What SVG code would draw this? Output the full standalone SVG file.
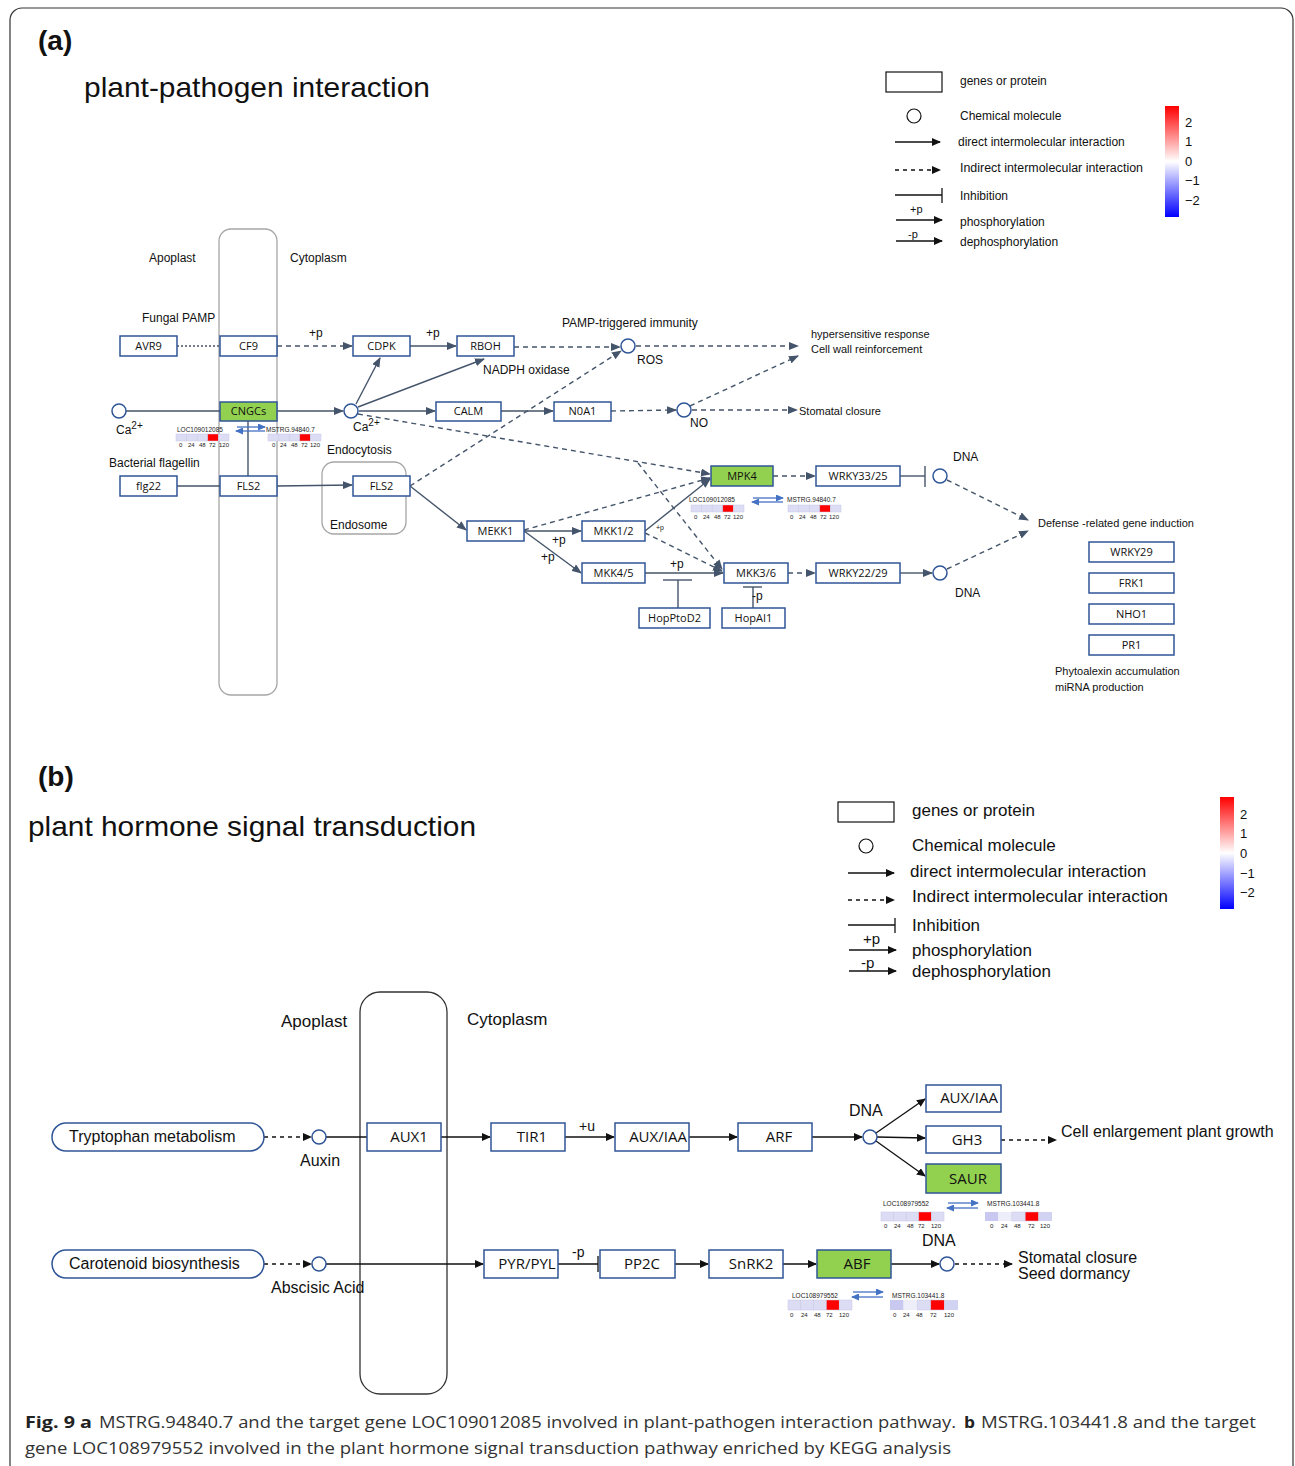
<svg xmlns="http://www.w3.org/2000/svg" width="1295" height="1466" viewBox="0 0 1295 1466">
<defs>
<style>
.t{font-family:"Liberation Sans",Arial,sans-serif;fill:#111}
.n{fill:#fff;stroke:#2f5597;stroke-width:1.5}
.g{fill:#92d050;stroke:#2f5597;stroke-width:1.5}
.nl{font-family:"Open Sans","Liberation Sans",sans-serif;font-size:11px;fill:#111;text-anchor:middle}
.bl{font-family:"Open Sans","Liberation Sans",sans-serif;font-size:15px;fill:#111;text-anchor:middle}
.c{fill:#fff;stroke:#2f5597;stroke-width:1.5}
.s{stroke:#44546a;stroke-width:1.4;fill:none}
.d{stroke:#44546a;stroke-width:1.4;fill:none;stroke-dasharray:5,4}
.sa{stroke:#44546a;stroke-width:1.4;fill:none;marker-end:url(#ma)}
.da{stroke:#44546a;stroke-width:1.4;fill:none;stroke-dasharray:5,4;marker-end:url(#ma)}
.kb{stroke:#111;stroke-width:1.3;fill:none}
.kba{stroke:#111;stroke-width:1.3;fill:none;marker-end:url(#mk)}
.kbd{stroke:#111;stroke-width:1.3;fill:none;stroke-dasharray:4,4;marker-end:url(#mk)}
.ba{stroke:#4472c4;stroke-width:1.3;fill:none;marker-end:url(#mb)}
.hc{fill:#dcdcf5;stroke:#c8c8e6;stroke-width:0.5}
.hr{fill:#ff0000;stroke:#c8c8e6;stroke-width:0.5}
.hs{font-family:"Liberation Sans",Arial,sans-serif;font-size:6.5px;fill:#222}
.hn{font-family:"Liberation Sans",Arial,sans-serif;font-size:6px;fill:#222}
.cap{font-family:"Open Sans","Liberation Sans",sans-serif;font-size:16.5px;fill:#333}
.capb{font-family:"Open Sans","Liberation Sans",sans-serif;font-size:16.5px;fill:#222;font-weight:bold}
</style>
<marker id="ma" markerWidth="10" markerHeight="8" refX="9" refY="4" orient="auto" markerUnits="userSpaceOnUse"><path d="M0,0 L10,4 L0,8 z" fill="#44546a"/></marker>
<marker id="mk" markerWidth="9" markerHeight="8" refX="8" refY="4" orient="auto" markerUnits="userSpaceOnUse"><path d="M0,0 L9,4 L0,8 z" fill="#111"/></marker>
<marker id="mb" markerWidth="8" markerHeight="7" refX="7" refY="3.5" orient="auto" markerUnits="userSpaceOnUse"><path d="M0,0 L8,3.5 L0,7 z" fill="#4472c4"/></marker>
<linearGradient id="cb" x1="0" y1="0" x2="0" y2="1">
<stop offset="0" stop-color="#ff0000"/><stop offset="0.5" stop-color="#ffffff"/><stop offset="1" stop-color="#0000ff"/>
</linearGradient>
</defs>
<rect x="0" y="0" width="1295" height="1466" fill="#fff"/>
<rect x="10" y="8" width="1283" height="1470" rx="12" fill="none" stroke="#333" stroke-width="1.2"/>

<!-- Panel a headings -->
<text class="t" x="38" y="50" font-size="28" font-weight="bold">(a)</text>
<text class="t" x="84" y="97" font-size="28" textLength="346" lengthAdjust="spacingAndGlyphs">plant-pathogen interaction</text>

<!-- Legend a -->
<g id="legend-a">
<rect x="886" y="72" width="56" height="20" fill="#fff" stroke="#111" stroke-width="1.2"/>
<text class="t" x="960" y="85" font-size="12">genes or protein</text>
<circle cx="914" cy="116" r="7" fill="#fff" stroke="#111" stroke-width="1.2"/>
<text class="t" x="960" y="120" font-size="12">Chemical molecule</text>
<line class="kba" x1="895" y1="142" x2="940" y2="142"/>
<text class="t" x="958" y="146" font-size="12">direct intermolecular interaction</text>
<line class="kbd" x1="895" y1="170" x2="940" y2="170"/>
<text class="t" x="960" y="172" font-size="12" textLength="183" lengthAdjust="spacingAndGlyphs">Indirect intermolecular interaction</text>
<line class="kb" x1="895" y1="195" x2="942" y2="195"/><line class="kb" x1="942" y1="188" x2="942" y2="203"/>
<text class="t" x="960" y="200" font-size="12">Inhibition</text>
<text class="t" x="910" y="213" font-size="11">+p</text>
<line class="kba" x1="896" y1="220" x2="942" y2="220"/>
<text class="t" x="960" y="226" font-size="12">phosphorylation</text>
<text class="t" x="908" y="238" font-size="11">-p</text>
<line class="kba" x1="896" y1="241" x2="942" y2="241"/>
<text class="t" x="960" y="246" font-size="12">dephosphorylation</text>
<rect x="1165" y="106" width="14" height="111" fill="url(#cb)"/>
<text class="t" x="1185" y="127" font-size="13">2</text>
<text class="t" x="1185" y="146" font-size="13">1</text>
<text class="t" x="1185" y="166" font-size="13">0</text>
<text class="t" x="1185" y="185" font-size="13">−1</text>
<text class="t" x="1185" y="205" font-size="13">−2</text>
</g>

<!-- compartments a -->
<rect x="219" y="229" width="58" height="466" rx="12" fill="none" stroke="#a6a6a6" stroke-width="1.3"/>
<text class="t" x="149" y="262" font-size="12">Apoplast</text>
<text class="t" x="290" y="262" font-size="12">Cytoplasm</text>
<text class="t" x="142" y="322" font-size="12">Fungal PAMP</text>
<text class="t" x="109" y="467" font-size="12">Bacterial flagellin</text>
<text class="t" x="327" y="454" font-size="12">Endocytosis</text>
<rect x="322" y="462" width="84" height="72" rx="12" fill="none" stroke="#a6a6a6" stroke-width="1.3"/>
<text class="t" x="330" y="529" font-size="12">Endosome</text>
<text class="t" x="562" y="327" font-size="12">PAMP-triggered immunity</text>
<text class="t" x="483" y="374" font-size="12">NADPH oxidase</text>
<text class="t" x="811" y="338" font-size="11">hypersensitive response</text>
<text class="t" x="811" y="353" font-size="11">Cell wall  reinforcement</text>
<text class="t" x="799" y="415" font-size="11">Stomatal closure</text>
<text class="t" x="1038" y="527" font-size="11">Defense -related gene induction</text>
<text class="t" x="1055" y="675" font-size="11">Phytoalexin accumulation</text>
<text class="t" x="1055" y="691" font-size="11">miRNA production</text>

<!-- connectors a -->
<g id="connectors-a">
<line class="s" x1="177" y1="346" x2="220" y2="346" stroke-dasharray="2,2"/>
<line class="da" x1="277" y1="346" x2="352" y2="346"/>
<text class="t" x="309" y="337" font-size="12">+p</text>
<line class="sa" x1="410" y1="346" x2="456" y2="346"/>
<text class="t" x="426" y="337" font-size="12">+p</text>
<line class="da" x1="514" y1="347" x2="620" y2="347"/>
<line class="da" x1="636" y1="346" x2="798" y2="346"/>
<line class="s" x1="126" y1="411" x2="220" y2="411"/>
<line class="sa" x1="277" y1="411" x2="343" y2="411"/>
<line class="sa" x1="356" y1="404" x2="380" y2="358"/>
<line class="sa" x1="358" y1="407" x2="484" y2="359"/>
<line class="sa" x1="359" y1="411" x2="435" y2="411"/>
<line class="da" x1="358" y1="414" x2="710" y2="474"/>
<line class="da" x1="638" y1="463" x2="722" y2="569"/>
<line class="sa" x1="501" y1="411" x2="553" y2="411"/>
<line class="da" x1="611" y1="411" x2="676" y2="410"/>
<line class="da" x1="692" y1="410" x2="797" y2="410"/>
<line class="da" x1="690" y1="406" x2="798" y2="356"/>
<line class="s" x1="248" y1="420" x2="248" y2="476"/>
<line class="s" x1="177" y1="486" x2="220" y2="486"/>
<line class="sa" x1="277" y1="486" x2="352" y2="485"/>
<line class="da" x1="410" y1="486" x2="621" y2="351"/>
<line class="sa" x1="410" y1="486" x2="466" y2="530"/>
<line class="sa" x1="524" y1="531" x2="581" y2="531"/>
<text class="t" x="552" y="544" font-size="12">+p</text>
<line class="sa" x1="524" y1="531" x2="581" y2="573"/>
<text class="t" x="541" y="561" font-size="12">+p</text>
<line class="da" x1="524" y1="530" x2="710" y2="478"/>
<line class="sa" x1="645" y1="531" x2="710" y2="479"/>
<text class="t" x="656" y="530" font-size="7">+p</text>
<line class="da" x1="645" y1="533" x2="722" y2="571"/>
<line class="sa" x1="645" y1="573" x2="723" y2="573"/>
<text class="t" x="670" y="568" font-size="12">+p</text>
<line class="s" x1="678" y1="608" x2="678" y2="580" stroke="#666"/>
<line class="s" x1="663" y1="580" x2="692" y2="580" stroke="#666"/>
<line class="s" x1="753" y1="608" x2="753" y2="587" stroke="#333"/>
<line class="s" x1="743" y1="587" x2="762" y2="587" stroke="#333"/>
<text class="t" x="752" y="600" font-size="12">-p</text>
<line class="da" x1="773" y1="476" x2="815" y2="476"/>
<line class="s" x1="900" y1="476" x2="925" y2="476"/>
<line class="s" x1="925" y1="466" x2="925" y2="487"/>
<line class="da" x1="947" y1="480" x2="1028" y2="520"/>
<line class="da" x1="788" y1="573" x2="815" y2="573"/>
<line class="sa" x1="900" y1="573" x2="932" y2="573"/>
<line class="da" x1="947" y1="569" x2="1028" y2="531"/>
</g>

<!-- nodes a -->
<g id="AVR9"><rect class="n" x="120" y="336" width="57" height="20"/><text class="nl" x="148.5" y="350">AVR9</text></g>
<g id="CF9"><rect class="n" x="220" y="336" width="57" height="20"/><text class="nl" x="248.5" y="350">CF9</text></g>
<g id="CDPK"><rect class="n" x="353" y="336" width="57" height="20"/><text class="nl" x="381.5" y="350">CDPK</text></g>
<g id="RBOH"><rect class="n" x="457" y="336" width="57" height="20"/><text class="nl" x="485.5" y="350">RBOH</text></g>
<g id="ROS"><circle class="c" cx="628" cy="346" r="7"/><text class="t" x="637" y="364" font-size="12">ROS</text></g>
<g id="Ca1"><circle class="c" cx="119" cy="411" r="7"/><text class="t" x="116" y="434" font-size="12">Ca<tspan font-size="10" dy="-5">2+</tspan></text></g>
<g id="CNGCs"><rect class="g" x="220" y="402" width="57" height="19"/><text class="nl" x="248.5" y="415">CNGCs</text></g>
<g id="Ca2"><circle class="c" cx="351" cy="411" r="7"/><text class="t" x="353" y="431" font-size="12">Ca<tspan font-size="10" dy="-5">2+</tspan></text></g>
<g id="CALM"><rect class="n" x="436" y="402" width="65" height="19"/><text class="nl" x="468.5" y="415">CALM</text></g>
<g id="N0A1"><rect class="n" x="554" y="402" width="57" height="19"/><text class="nl" x="582.5" y="415">N0A1</text></g>
<g id="NO"><circle class="c" cx="684" cy="410" r="7"/><text class="t" x="690" y="427" font-size="12">NO</text></g>
<g id="flg22"><rect class="n" x="120" y="476" width="57" height="20"/><text class="nl" x="148.5" y="490">flg22</text></g>
<g id="FLS2"><rect class="n" x="220" y="476" width="57" height="20"/><text class="nl" x="248.5" y="490">FLS2</text></g>
<g id="FLS2-endo"><rect class="n" x="353" y="476" width="57" height="20"/><text class="nl" x="381.5" y="490">FLS2</text></g>
<g id="MEKK1"><rect class="n" x="467" y="521" width="57" height="20"/><text class="nl" x="495.5" y="535">MEKK1</text></g>
<g id="MKK12"><rect class="n" x="582" y="521" width="63" height="20"/><text class="nl" x="613.5" y="535">MKK1/2</text></g>
<g id="MKK45"><rect class="n" x="582" y="563" width="63" height="20"/><text class="nl" x="613.5" y="577">MKK4/5</text></g>
<g id="MPK4"><rect class="g" x="711" y="466" width="62" height="20"/><text class="nl" x="742" y="480">MPK4</text></g>
<g id="MKK36"><rect class="n" x="724" y="563" width="64" height="20"/><text class="nl" x="756" y="577">MKK3/6</text></g>
<g id="HopPtoD2"><rect class="n" x="639" y="608" width="71" height="20"/><text class="nl" x="674.5" y="622">HopPtoD2</text></g>
<g id="HopAI1"><rect class="n" x="722" y="608" width="63" height="20"/><text class="nl" x="753.5" y="622">HopAI1</text></g>
<g id="WRKY3325"><rect class="n" x="816" y="466" width="84" height="20"/><text class="nl" x="858" y="480">WRKY33/25</text></g>
<g id="WRKY2229"><rect class="n" x="816" y="563" width="84" height="20"/><text class="nl" x="858" y="577">WRKY22/29</text></g>
<g id="DNA1"><circle class="c" cx="940" cy="476" r="7"/><text class="t" x="953" y="461" font-size="12">DNA</text></g>
<g id="DNA2"><circle class="c" cx="940" cy="573" r="7"/><text class="t" x="955" y="597" font-size="12">DNA</text></g>
<g id="WRKY29"><rect class="n" x="1089" y="542" width="85" height="20"/><text class="nl" x="1131.5" y="556">WRKY29</text></g>
<g id="FRK1"><rect class="n" x="1089" y="573" width="85" height="20"/><text class="nl" x="1131.5" y="587">FRK1</text></g>
<g id="NHO1"><rect class="n" x="1089" y="604" width="85" height="20"/><text class="nl" x="1131.5" y="618">NHO1</text></g>
<g id="PR1"><rect class="n" x="1089" y="635" width="85" height="20"/><text class="nl" x="1131.5" y="649">PR1</text></g>

<!-- heatmap a1 -->
<g id="heat-a1">
<text class="hs" x="177" y="432">LOC109012085</text>
<rect class="hc" x="176" y="434" width="10.6" height="7"/><rect class="hc" x="186.6" y="434" width="10.6" height="7"/><rect class="hc" x="197.2" y="434" width="10.6" height="7"/><rect class="hr" x="207.8" y="434" width="10.6" height="7"/><rect class="hc" x="218.4" y="434" width="10.6" height="7"/>
<text class="hn" x="179" y="447">0</text><text class="hn" x="188" y="447">24</text><text class="hn" x="199" y="447">48</text><text class="hn" x="209" y="447">72</text><text class="hn" x="219" y="447">120</text>
<line class="ba" x1="237" y1="427" x2="265" y2="427"/><line class="ba" x1="265" y1="431" x2="236" y2="431"/>
<text class="hs" x="266" y="432">MSTRG.94840.7</text>
<rect class="hc" x="268" y="434" width="10.6" height="7"/><rect class="hc" x="278.6" y="434" width="10.6" height="7"/><rect class="hc" x="289.2" y="434" width="10.6" height="7"/><rect class="hr" x="299.8" y="434" width="10.6" height="7"/><rect class="hc" x="310.4" y="434" width="10.6" height="7"/>
<text class="hn" x="272" y="447">0</text><text class="hn" x="280" y="447">24</text><text class="hn" x="291" y="447">48</text><text class="hn" x="301" y="447">72</text><text class="hn" x="310" y="447">120</text>
</g>
<!-- heatmap a2 -->
<g id="heat-a2">
<text class="hs" x="689" y="502">LOC109012085</text>
<rect class="hc" x="691" y="505" width="10.6" height="7"/><rect class="hc" x="701.6" y="505" width="10.6" height="7"/><rect class="hc" x="712.2" y="505" width="10.6" height="7"/><rect class="hr" x="722.8" y="505" width="10.6" height="7"/><rect class="hc" x="733.4" y="505" width="10.6" height="7"/>
<text class="hn" x="694" y="519">0</text><text class="hn" x="703" y="519">24</text><text class="hn" x="714" y="519">48</text><text class="hn" x="724" y="519">72</text><text class="hn" x="733" y="519">120</text>
<line class="ba" x1="753" y1="498" x2="783" y2="498"/><line class="ba" x1="783" y1="502" x2="752" y2="502"/>
<text class="hs" x="787" y="502">MSTRG.94840.7</text>
<rect class="hc" x="788" y="505" width="10.6" height="7"/><rect class="hc" x="798.6" y="505" width="10.6" height="7"/><rect class="hc" x="809.2" y="505" width="10.6" height="7"/><rect class="hr" x="819.8" y="505" width="10.6" height="7"/><rect class="hc" x="830.4" y="505" width="10.6" height="7"/>
<text class="hn" x="790" y="519">0</text><text class="hn" x="799" y="519">24</text><text class="hn" x="810" y="519">48</text><text class="hn" x="820" y="519">72</text><text class="hn" x="829" y="519">120</text>
</g>

<!-- Panel b -->
<text class="t" x="38" y="786" font-size="28" font-weight="bold">(b)</text>
<text class="t" x="28" y="836" font-size="28" textLength="448" lengthAdjust="spacingAndGlyphs">plant hormone signal transduction</text>

<g id="legend-b">
<rect x="838" y="802" width="56" height="20" fill="#fff" stroke="#111" stroke-width="1.2"/>
<text class="t" x="912" y="816" font-size="17">genes or protein</text>
<circle cx="866" cy="846" r="7" fill="#fff" stroke="#111" stroke-width="1.2"/>
<text class="t" x="912" y="851" font-size="17">Chemical molecule</text>
<line class="kba" x1="848" y1="873" x2="894" y2="873"/>
<text class="t" x="910" y="877" font-size="17">direct intermolecular interaction</text>
<line class="kbd" x1="848" y1="900" x2="894" y2="900"/>
<text class="t" x="912" y="902" font-size="17" textLength="256" lengthAdjust="spacingAndGlyphs">Indirect intermolecular interaction</text>
<line class="kb" x1="848" y1="925" x2="895" y2="925"/><line class="kb" x1="895" y1="918" x2="895" y2="933"/>
<text class="t" x="912" y="931" font-size="17">Inhibition</text>
<text class="t" x="863" y="944" font-size="15">+p</text>
<line class="kba" x1="849" y1="950" x2="896" y2="950"/>
<text class="t" x="912" y="956" font-size="17">phosphorylation</text>
<text class="t" x="861" y="968" font-size="15">-p</text>
<line class="kba" x1="849" y1="971" x2="896" y2="971"/>
<text class="t" x="912" y="977" font-size="17">dephosphorylation</text>
<rect x="1220" y="797" width="14" height="112" fill="url(#cb)"/>
<text class="t" x="1240" y="819" font-size="13">2</text>
<text class="t" x="1240" y="838" font-size="13">1</text>
<text class="t" x="1240" y="858" font-size="13">0</text>
<text class="t" x="1240" y="878" font-size="13">−1</text>
<text class="t" x="1240" y="897" font-size="13">−2</text>
</g>

<rect x="360" y="992" width="87" height="402" rx="20" fill="none" stroke="#333" stroke-width="1.3"/>
<text class="t" x="281" y="1027" font-size="17">Apoplast</text>
<text class="t" x="467" y="1025" font-size="17">Cytoplasm</text>
<text class="t" x="1061" y="1137" font-size="16" font-family="Open Sans, sans-serif">Cell enlargement plant growth</text>
<text class="t" x="1018" y="1263" font-size="16" font-family="Open Sans, sans-serif">Stomatal closure</text>
<text class="t" x="1018" y="1279" font-size="16" font-family="Open Sans, sans-serif">Seed dormancy</text>

<g id="connectors-b">
<line class="kbd" x1="264" y1="1137" x2="311" y2="1137"/>
<line class="kb" x1="326" y1="1137" x2="367" y2="1137" stroke="#555"/>
<line class="kba" x1="441" y1="1137" x2="490" y2="1137"/>
<line class="kba" x1="565" y1="1137" x2="614" y2="1137"/>
<text class="t" x="579" y="1131" font-size="14">+u</text>
<line class="kba" x1="680" y1="1137" x2="737" y2="1137"/>
<line class="kba" x1="812" y1="1137" x2="862" y2="1137"/>
<line class="kba" x1="876" y1="1133" x2="925" y2="1099"/>
<line class="kba" x1="877" y1="1137" x2="925" y2="1138"/>
<line class="kba" x1="876" y1="1141" x2="925" y2="1176"/>
<line class="kbd" x1="1001" y1="1140" x2="1056" y2="1140"/>
<line class="kbd" x1="264" y1="1264" x2="311" y2="1264"/>
<line class="kba" x1="326" y1="1264" x2="483" y2="1264"/>
<line class="kb" x1="558" y1="1264" x2="598" y2="1264"/>
<line class="kb" x1="598" y1="1256" x2="598" y2="1272" stroke="#555"/>
<text class="t" x="572" y="1257" font-size="14">-p</text>
<line class="kba" x1="675" y1="1264" x2="708" y2="1264"/>
<line class="kba" x1="783" y1="1264" x2="816" y2="1264"/>
<line class="kba" x1="891" y1="1264" x2="939" y2="1264"/>
<line class="kbd" x1="955" y1="1264" x2="1012" y2="1264"/>
</g>

<g id="Tryptophan"><rect x="52" y="1123" width="212" height="28" rx="14" fill="#fff" stroke="#2f5597" stroke-width="1.5"/><text class="t" x="69" y="1142" font-size="16" font-family="Open Sans, sans-serif">Tryptophan metabolism</text></g>
<g id="Auxin"><circle class="c" cx="319" cy="1137" r="7"/><text class="t" x="300" y="1166" font-size="16" font-family="Open Sans, sans-serif">Auxin</text></g>
<g id="AUX1"><rect class="n" x="367" y="1123" width="74" height="28"/><text class="bl" x="409" y="1142">AUX1</text></g>
<g id="TIR1"><rect class="n" x="491" y="1123" width="74" height="28"/><text class="bl" x="532" y="1142">TIR1</text></g>
<g id="AUXIAA1"><rect class="n" x="615" y="1123" width="74" height="28"/><text class="bl" x="658" y="1142">AUX/IAA</text></g>
<g id="ARF"><rect class="n" x="738" y="1123" width="74" height="28"/><text class="bl" x="779" y="1142">ARF</text></g>
<g id="DNA-b1"><circle class="c" cx="870" cy="1137" r="7"/><text class="t" x="849" y="1116" font-size="16" font-family="Open Sans, sans-serif">DNA</text></g>
<g id="AUXIAA2"><rect class="n" x="926" y="1085" width="75" height="27"/><text class="bl" x="969" y="1103">AUX/IAA</text></g>
<g id="GH3"><rect class="n" x="926" y="1126" width="75" height="27"/><text class="bl" x="967" y="1145">GH3</text></g>
<g id="SAUR"><rect class="g" x="926" y="1164" width="75" height="29"/><text class="bl" x="968" y="1184">SAUR</text></g>
<g id="Carotenoid"><rect x="52" y="1250" width="212" height="28" rx="14" fill="#fff" stroke="#2f5597" stroke-width="1.5"/><text class="t" x="69" y="1269" font-size="16" font-family="Open Sans, sans-serif">Carotenoid biosynthesis</text></g>
<g id="ABA"><circle class="c" cx="319" cy="1264" r="7"/><text class="t" x="271" y="1293" font-size="16" font-family="Open Sans, sans-serif">Abscisic Acid</text></g>
<g id="PYR"><rect class="n" x="484" y="1250" width="74" height="28"/><text class="bl" x="527" y="1269">PYR/PYL</text></g>
<g id="PP2C"><rect class="n" x="600" y="1250" width="75" height="28"/><text class="bl" x="642" y="1269">PP2C</text></g>
<g id="SnRK2"><rect class="n" x="709" y="1250" width="74" height="28"/><text class="bl" x="751" y="1269">SnRK2</text></g>
<g id="ABF"><rect class="g" x="817" y="1250" width="74" height="28"/><text class="bl" x="857" y="1269">ABF</text></g>
<g id="DNA-b2"><circle class="c" cx="947" cy="1264" r="7"/><text class="t" x="922" y="1246" font-size="16" font-family="Open Sans, sans-serif">DNA</text></g>

<g id="heat-b1">
<text class="hs" x="883" y="1206">LOC108979552</text>
<rect class="hc" x="881" y="1212" width="12.6" height="9"/><rect class="hc" x="893.6" y="1212" width="12.6" height="9"/><rect class="hc" x="906.2" y="1212" width="12.6" height="9"/><rect class="hr" x="918.8" y="1212" width="12.6" height="9"/><rect class="hc" x="931.4" y="1212" width="12.6" height="9"/>
<text class="hn" x="884" y="1228">0</text><text class="hn" x="894" y="1228">24</text><text class="hn" x="907" y="1228">48</text><text class="hn" x="918" y="1228">72</text><text class="hn" x="931" y="1228">120</text>
<line class="ba" x1="948" y1="1203" x2="978" y2="1203"/><line class="ba" x1="978" y1="1208" x2="947" y2="1208"/>
<text class="hs" x="987" y="1206">MSTRG.103441.8</text>
<rect x="985" y="1212" width="13.4" height="9" fill="#c8c8f0"/><rect x="998.4" y="1212" width="13.4" height="9" fill="#eeeefa"/><rect class="hc" x="1011.8" y="1212" width="13.4" height="9"/><rect class="hr" x="1025.2" y="1212" width="13.4" height="9"/><rect x="1038.6" y="1212" width="13.4" height="9" fill="#d2d2f2"/>
<text class="hn" x="990" y="1228">0</text><text class="hn" x="1001" y="1228">24</text><text class="hn" x="1014" y="1228">48</text><text class="hn" x="1028" y="1228">72</text><text class="hn" x="1040" y="1228">120</text>
</g>
<g id="heat-b2">
<text class="hs" x="792" y="1298">LOC108979552</text>
<rect class="hc" x="788" y="1300" width="12.8" height="10"/><rect class="hc" x="800.8" y="1300" width="12.8" height="10"/><rect class="hc" x="813.6" y="1300" width="12.8" height="10"/><rect class="hr" x="826.4" y="1300" width="12.8" height="10"/><rect class="hc" x="839.2" y="1300" width="12.8" height="10"/>
<text class="hn" x="790" y="1317">0</text><text class="hn" x="801" y="1317">24</text><text class="hn" x="814" y="1317">48</text><text class="hn" x="826" y="1317">72</text><text class="hn" x="839" y="1317">120</text>
<line class="ba" x1="853" y1="1292" x2="883" y2="1292"/><line class="ba" x1="883" y1="1297" x2="852" y2="1297"/>
<text class="hs" x="892" y="1298">MSTRG.103441.8</text>
<rect x="890" y="1300" width="13.6" height="10" fill="#c8c8f0"/><rect x="903.6" y="1300" width="13.6" height="10" fill="#eeeefa"/><rect class="hc" x="917.2" y="1300" width="13.6" height="10"/><rect class="hr" x="930.8" y="1300" width="13.6" height="10"/><rect x="944.4" y="1300" width="13.6" height="10" fill="#d2d2f2"/>
<text class="hn" x="893" y="1317">0</text><text class="hn" x="903" y="1317">24</text><text class="hn" x="916" y="1317">48</text><text class="hn" x="930" y="1317">72</text><text class="hn" x="944" y="1317">120</text>
</g>

<!-- caption -->
<text class="capb" x="25" y="1428" textLength="67" lengthAdjust="spacingAndGlyphs">Fig. 9 a</text>
<text class="cap" x="99" y="1428" textLength="857" lengthAdjust="spacingAndGlyphs">MSTRG.94840.7 and the target gene LOC109012085 involved in plant-pathogen interaction pathway.</text>
<text class="capb" x="964" y="1428" textLength="11" lengthAdjust="spacingAndGlyphs">b</text>
<text class="cap" x="981" y="1428" textLength="275" lengthAdjust="spacingAndGlyphs">MSTRG.103441.8 and the target</text>
<text class="cap" x="25" y="1454" textLength="926" lengthAdjust="spacingAndGlyphs">gene LOC108979552 involved in the plant hormone signal transduction pathway enriched by KEGG analysis</text>
</svg>
